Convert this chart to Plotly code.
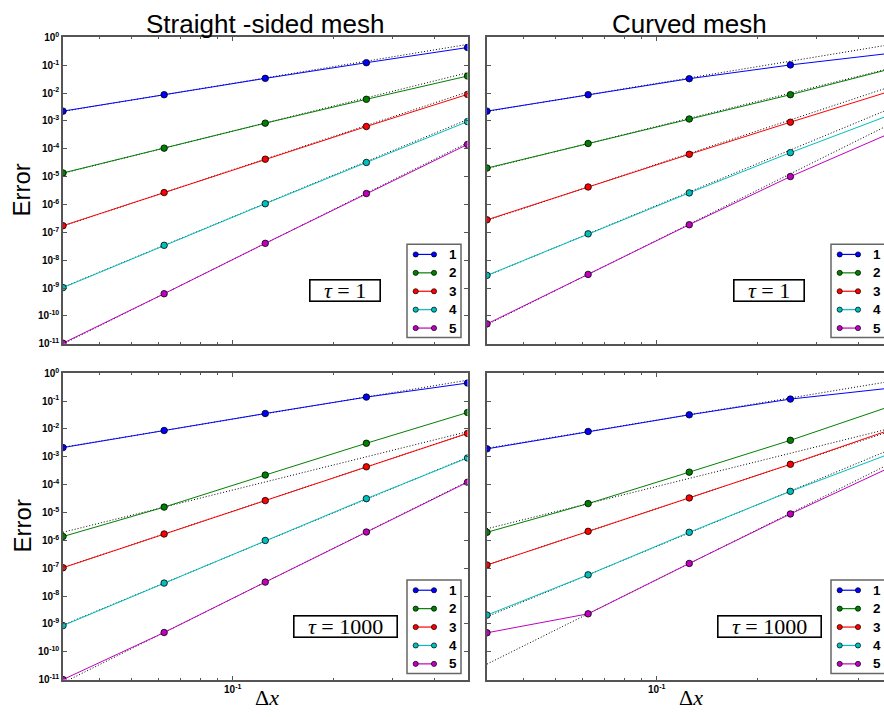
import numpy as np
import plotly.graph_objects as go

W, H = 884, 717

# Mesh sizes and polynomial orders
dx = [1/32, 1/16, 1/8, 1/4, 1/2]
orders = [1, 2, 3, 4, 5]
colors = ['#0000ff', '#008000', '#ff0000', '#00bfbf', '#bf00bf']

# Errors, one list per order (rows: p = 1..5, columns follow dx)
err_straight_tau1 = [
    [2.26e-3, 8.79e-3, 3.39e-2, 1.24e-1, 4.34e-1],
    [1.36e-5, 1.06e-4, 8.36e-4, 6.01e-3, 4.11e-2],
    [1.74e-7, 2.69e-6, 4.25e-5, 6.34e-4, 9.02e-3],
    [1.04e-9, 3.43e-8, 1.07e-6, 3.24e-5, 9.51e-4],
    [1.05e-11, 6.27e-10, 4.04e-8, 2.48e-6, 1.44e-4],
]
err_curved_tau1 = [
    [2.26e-3, 8.79e-3, 3.30e-2, 1.03e-1, 2.73e-1],
    [2.04e-5, 1.56e-4, 1.18e-3, 8.79e-3, 7.57e-2],
    [2.83e-7, 4.27e-6, 6.37e-5, 9.06e-4, 1.21e-2],
    [2.86e-9, 8.87e-8, 2.62e-6, 7.31e-5, 1.72e-3],
    [5.18e-11, 3.10e-9, 1.89e-7, 1.01e-5, 3.80e-4],
]
err_straight_tau1000 = [
    [2.14e-3, 8.79e-3, 3.58e-2, 1.39e-1, 4.44e-1],
    [1.37e-6, 1.56e-5, 2.21e-4, 3.06e-3, 3.89e-2],
    [1.04e-7, 1.69e-6, 2.67e-5, 4.37e-4, 6.90e-3],
    [8.67e-10, 2.92e-8, 9.89e-7, 3.14e-5, 9.06e-4],
    [1.00e-11, 4.91e-10, 3.16e-8, 1.99e-6, 1.22e-4],
]
err_curved_tau1000 = [
    [1.93e-3, 8.11e-3, 3.22e-2, 1.18e-1, 2.96e-1],
    [1.94e-6, 2.09e-5, 2.81e-4, 3.91e-3, 6.70e-2],
    [1.30e-7, 2.10e-6, 3.33e-5, 5.38e-4, 9.62e-3],
    [2.07e-9, 5.77e-8, 1.94e-6, 5.73e-5, 1.35e-3],
    [4.79e-10, 2.30e-9, 1.48e-7, 8.85e-6, 4.40e-4],
]

col_titles = ['Straight -sided mesh', 'Curved mesh']
tau_labels = ['1', '1000']
y_tick_vals = [10.0 ** k for k in range(-11, 1)]
y_tick_text = ['<b>10<sup>%d</sup></b>' % k for k in range(-11, 1)]
x_tick_vals = [0.1]
x_tick_text = ['<b>10<sup>-1</sup></b>']
x_minor_vals = [0.04, 0.05, 0.06, 0.07, 0.08, 0.09, 0.2, 0.3, 0.4]


def px(x):
    return x / W


def py(y):
    return 1 - y / H


# Panel geometry (pixels); right column runs past the page edge
col_x = [(63.0, 467.5), (487.0, 891.5)]
row_y = [(31.0, 343.0), (373.0, 685.0)]
xlo = np.log10(dx[0])
dec_per_px = (np.log10(dx[-1]) - xlo) / (col_x[0][1] - col_x[0][0])

panels = [
    (0, 0, err_straight_tau1),
    (0, 1, err_curved_tau1),
    (1, 0, err_straight_tau1000),
    (1, 1, err_curved_tau1000),
]

AX = '#555555'
fig = go.Figure()
shapes = []
annotations = []
layout = {}

for i, (r, c, errs) in enumerate(panels):
    k = '' if i == 0 else str(i + 1)
    xname, yname = 'x' + k, 'y' + k
    x0, x1 = col_x[c]
    y0, y1 = row_y[r]
    x1_vis = min(x1, W)
    xhi = xlo + (x1_vis - x0) * dec_per_px

    # order-(p+1) reference slopes through the dx = 1/16 value
    for p, e in zip(orders, errs):
        ref = [e[1] * (h / dx[1]) ** (p + 1) for h in dx]
        fig.add_trace(go.Scatter(x=dx, y=ref, mode='lines', xaxis=xname, yaxis=yname,
                                 line=dict(color='black', width=1, dash='1px,2px'),
                                 showlegend=False, hoverinfo='skip'))
    for p, e, col in zip(orders, errs, colors):
        fig.add_trace(go.Scatter(x=dx, y=e, mode='lines+markers', xaxis=xname, yaxis=yname,
                                 line=dict(color=col, width=1),
                                 marker=dict(color=col, size=6.5, line=dict(color='black', width=0.8)),
                                 showlegend=False, name=str(p)))

    tickfont = dict(family='Liberation Sans, Arial', size=10, color='black')
    layout['xaxis' + k] = dict(
        type='log', range=[xlo, xhi], domain=[px(x0), px(x1_vis)], anchor=yname,
        showline=True, linecolor=AX, linewidth=1.5, mirror='ticks',
        ticks='inside', ticklen=4, tickcolor=AX, tickwidth=1,
        tickmode='array', tickvals=x_tick_vals, ticktext=x_tick_text,
        showticklabels=(r == 1), tickfont=tickfont,
        showgrid=False, zeroline=False,
        minor=dict(tickmode='array', tickvals=x_minor_vals, ticks='inside',
                   ticklen=2, tickcolor=AX, showgrid=False),
    )
    layout['yaxis' + k] = dict(
        type='log', range=[-11, 0], domain=[py(y1), py(y0)], anchor=xname,
        showline=True, linecolor=AX, linewidth=1.5, mirror=('ticks' if c == 0 else False),
        ticks='inside', ticklen=4, tickcolor=AX, tickwidth=1,
        tickmode='array', tickvals=y_tick_vals, ticktext=y_tick_text,
        showticklabels=(c == 0), tickfont=tickfont,
        showgrid=False, zeroline=False,
    )

    # legend box with two-marker samples
    bx0 = x1 - 60.5
    bx1 = x1 - 6.5
    by1 = y1 - 6.3
    by0 = y1 - 101.3
    shapes.append(dict(type='rect', xref='paper', yref='paper',
                       x0=px(bx0), x1=px(bx1), y0=py(by1), y1=py(by0),
                       line=dict(color='#666666', width=1.5), fillcolor='white', layer='above'))
    for j, (p, col) in enumerate(zip(orders, colors)):
        yc = by0 + 10.3 + j * 18.75
        m1, m2 = bx0 + 8.7, bx0 + 27.0
        shapes.append(dict(type='line', xref='paper', yref='paper',
                           x0=px(m1), x1=px(m2), y0=py(yc), y1=py(yc),
                           line=dict(color=col, width=1.2), layer='above'))
        for m in (m1, m2):
            rr = 2.6
            shapes.append(dict(type='circle', xref='paper', yref='paper',
                               x0=px(m - rr), x1=px(m + rr), y0=py(yc + rr), y1=py(yc - rr),
                               fillcolor=col, line=dict(color='black', width=0.7), layer='above'))
        annotations.append(dict(xref='paper', yref='paper', x=px(bx0 + 45.7), y=py(yc),
                                text='<b>%d</b>' % p, showarrow=False, xanchor='center', yanchor='middle',
                                font=dict(family='Liberation Sans, Arial', size=13.5, color='black')))

    # tau label box
    cx = (x0 + x1) / 2 + 80
    cy = (y0 + y1) / 2 + 101.5
    tau = tau_labels[r]
    annotations.append(dict(xref='paper', yref='paper', x=px(cx), y=py(cy),
                            text='<i>τ</i> = ' + tau, showarrow=False,
                            xanchor='center', yanchor='middle',
                            width=(67 if tau == '1' else 100), height=18, borderpad=1,
                            bordercolor='black', borderwidth=1.6, bgcolor='white',
                            font=dict(family='Liberation Serif, DejaVu Serif', size=22, color='black')))

# column titles, axis labels
for c, t in enumerate(col_titles):
    cx = (col_x[c][0] + col_x[c][1]) / 2
    annotations.append(dict(xref='paper', yref='paper', x=px(cx), y=py(17), text=t,
                            showarrow=False, xanchor='center', yanchor='middle',
                            font=dict(family='Liberation Sans, Arial', size=26, color='black')))
    annotations.append(dict(xref='paper', yref='paper', x=px(cx + 2), y=py(703),
                            text='Δ<i>x</i>', showarrow=False, xanchor='center', yanchor='middle',
                            font=dict(family='Liberation Serif, DejaVu Serif', size=22, color='black')))
for r in range(2):
    cy = (row_y[r][0] + row_y[r][1]) / 2
    annotations.append(dict(xref='paper', yref='paper', x=px(22), y=py(cy), text='Error',
                            showarrow=False, textangle=-90, xanchor='center', yanchor='middle',
                            font=dict(family='Liberation Sans, Arial', size=24, color='black')))

fig.update_layout(
    width=W, height=H, autosize=False,
    margin=dict(l=0, r=0, t=0, b=0),
    paper_bgcolor='white', plot_bgcolor='white',
    showlegend=False,
    shapes=shapes, annotations=annotations,
    **layout,
)

fig.write_html('out.html')
